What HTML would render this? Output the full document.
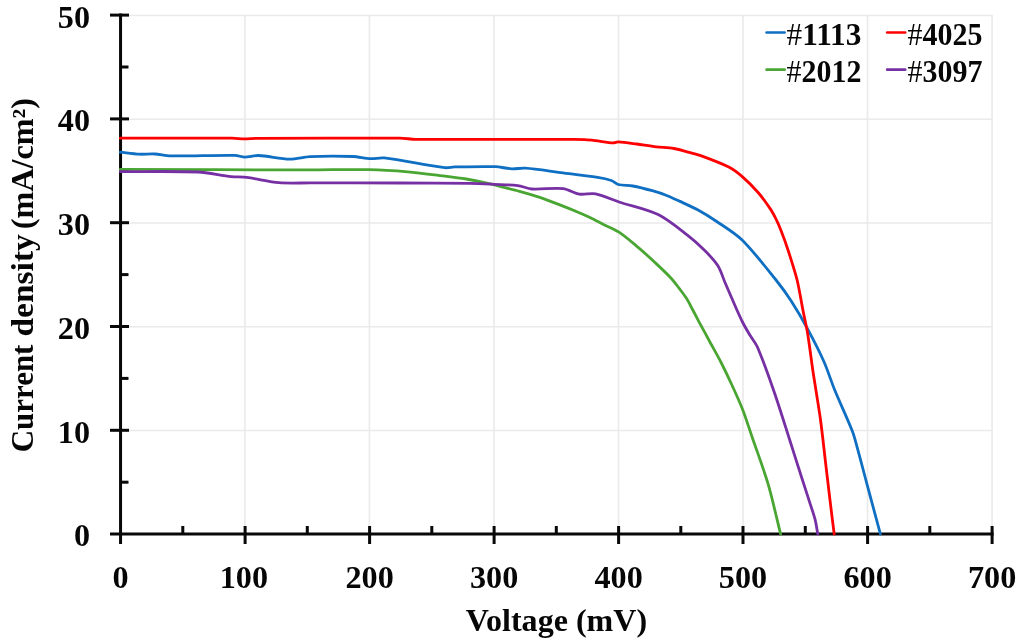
<!DOCTYPE html>
<html><head><meta charset="utf-8"><title>J-V curves</title>
<style>
html,body{margin:0;padding:0;background:#fff;}
body{width:1024px;height:644px;overflow:hidden;}
svg{display:block;}
text{font-family:"Liberation Serif",serif;font-weight:bold;fill:#060606;}
</style></head><body>
<svg width="1024" height="644" viewBox="0 0 1024 644">
<rect width="1024" height="644" fill="#fff"/>
<g stroke="#eaeaea" stroke-width="1.6">
<line x1="244.92" y1="15.1" x2="244.92" y2="534.05"/>
<line x1="369.44" y1="15.1" x2="369.44" y2="534.05"/>
<line x1="493.96" y1="15.1" x2="493.96" y2="534.05"/>
<line x1="618.48" y1="15.1" x2="618.48" y2="534.05"/>
<line x1="743.0" y1="15.1" x2="743.0" y2="534.05"/>
<line x1="867.52" y1="15.1" x2="867.52" y2="534.05"/>
<line x1="992.04" y1="15.1" x2="992.04" y2="534.05"/>
<line x1="120.55" y1="430.57" x2="992.6" y2="430.57"/>
<line x1="120.55" y1="326.79" x2="992.6" y2="326.79"/>
<line x1="120.55" y1="223.01" x2="992.6" y2="223.01"/>
<line x1="120.55" y1="119.23" x2="992.6" y2="119.23"/>
<line x1="120.55" y1="15.45" x2="992.6" y2="15.45"/>
</g>
<g stroke="#080808" stroke-width="3.0" fill="none">
<line x1="120.55" y1="13.6" x2="120.55" y2="544"/>
<line x1="110" y1="534.05" x2="993.6" y2="534.05"/>
<line x1="182.8" y1="526" x2="182.8" y2="534.05"/>
<line x1="245.1" y1="526" x2="245.1" y2="544"/>
<line x1="307.3" y1="526" x2="307.3" y2="534.05"/>
<line x1="369.6" y1="526" x2="369.6" y2="544"/>
<line x1="431.8" y1="526" x2="431.8" y2="534.05"/>
<line x1="494.1" y1="526" x2="494.1" y2="544"/>
<line x1="556.3" y1="526" x2="556.3" y2="534.05"/>
<line x1="618.6" y1="526" x2="618.6" y2="544"/>
<line x1="680.8" y1="526" x2="680.8" y2="534.05"/>
<line x1="743.0" y1="526" x2="743.0" y2="544"/>
<line x1="805.3" y1="526" x2="805.3" y2="534.05"/>
<line x1="867.6" y1="526" x2="867.6" y2="544"/>
<line x1="929.8" y1="526" x2="929.8" y2="534.05"/>
<line x1="992.1" y1="526" x2="992.1" y2="544"/>
<line x1="120.55" y1="482.2" x2="128.5" y2="482.2"/>
<line x1="110" y1="430.3" x2="129" y2="430.3"/>
<line x1="120.55" y1="378.4" x2="128.5" y2="378.4"/>
<line x1="110" y1="326.5" x2="129" y2="326.5"/>
<line x1="120.55" y1="274.6" x2="128.5" y2="274.6"/>
<line x1="110" y1="222.7" x2="129" y2="222.7"/>
<line x1="120.55" y1="170.8" x2="128.5" y2="170.8"/>
<line x1="110" y1="118.9" x2="129" y2="118.9"/>
<line x1="120.55" y1="67.0" x2="128.5" y2="67.0"/>
<line x1="110" y1="15.1" x2="129" y2="15.1"/>
</g>
<path d="M120.3,152.2C126.0,152.8 133.6,153.9 139.3,154.2C144.0,154.4 150.2,153.7 154.9,154.0C159.6,154.3 165.8,155.8 170.5,155.9C189.8,156.2 215.7,155.1 235.0,155.4C238.0,155.4 241.8,157.1 244.8,157.1C248.9,157.1 254.3,155.3 258.4,155.5C267.8,155.9 280.3,158.9 289.7,159.1C295.8,159.2 303.9,156.9 310.0,156.6C322.9,156.1 340.1,156.1 353.0,156.5C358.3,156.7 365.2,158.5 370.5,158.7C374.6,158.9 380.1,157.4 384.2,157.9C402.5,160.1 426.5,165.4 444.8,167.7C447.7,168.1 451.6,167.0 454.5,166.9C466.8,166.7 483.2,166.3 495.5,166.7C500.4,166.9 506.8,168.6 511.7,168.8C515.8,169.0 521.3,167.9 525.4,168.2C535.4,168.9 548.6,171.0 558.6,172.3C570.3,173.8 586.0,175.6 597.7,177.4C601.8,178.0 607.3,179.1 611.3,180.5C613.6,181.3 615.9,183.9 618.2,184.5C622.5,185.6 628.5,185.2 632.8,186.0C638.7,187.1 646.5,189.1 652.3,190.7C656.5,191.9 662.0,193.6 666.0,195.2C670.3,196.9 675.8,199.5 680.0,201.4C685.2,203.8 692.2,206.9 697.2,209.6C703.2,212.9 711.0,217.7 716.7,221.5C724.5,226.8 735.4,233.4 742.1,240.0C753.3,251.0 766.1,267.7 776.0,280.0C780.9,286.1 787.0,294.5 791.2,301.1C796.5,309.3 803.1,320.6 807.7,329.2C812.9,338.9 819.6,351.9 824.1,362.0C827.7,370.2 831.3,381.7 834.7,390.0C839.8,402.4 847.4,418.5 852.3,431.0C854.1,435.5 855.6,441.7 856.9,446.3C860.2,458.2 864.3,474.2 867.5,486.1C871.4,500.5 876.5,519.6 880.4,534.0" fill="none" stroke="#0f6fc2" stroke-width="2.8" stroke-linejoin="round" stroke-linecap="round"/>
<path d="M120.3,169.4C177.2,169.6 253.1,169.9 310.0,169.9C327.6,169.9 351.0,169.3 368.6,169.6C380.3,169.8 396.0,170.8 407.7,171.8C419.4,172.8 435.0,174.9 446.7,176.3C452.6,177.0 460.4,178.0 466.3,179.0C472.2,180.0 480.0,181.6 485.8,182.9C490.1,183.8 495.7,185.3 500.0,186.4C505.9,187.9 513.7,189.7 519.5,191.3C525.4,192.9 533.2,195.2 539.0,197.1C544.9,199.1 552.7,202.1 558.6,204.4C564.5,206.7 572.3,209.8 578.1,212.2C581.7,213.7 586.5,215.9 590.0,217.6C594.1,219.6 599.4,222.4 603.4,224.4C608.1,226.8 614.7,229.3 619.0,232.2C625.5,236.5 633.3,243.4 639.3,248.4C644.3,252.6 650.7,258.5 655.5,263.0C660.3,267.5 666.6,273.4 671.1,278.2C673.6,280.9 676.6,284.9 678.8,287.8C681.2,291.0 684.5,295.2 686.6,298.6C688.7,301.9 691.0,306.6 692.8,310.0C694.7,313.5 697.1,318.3 699.0,321.8C702.1,327.6 706.3,335.2 709.4,341.0C712.9,347.5 717.8,356.0 721.1,362.5C724.5,369.2 728.8,378.2 731.9,385.0C735.3,392.4 739.8,402.3 742.8,409.9C745.9,417.9 749.3,428.9 752.1,437.0C756.9,451.0 763.8,469.5 768.0,483.7C772.4,498.6 776.8,518.9 780.6,534.0" fill="none" stroke="#4aa632" stroke-width="2.8" stroke-linejoin="round" stroke-linecap="round"/>
<path d="M120.3,171.6C143.6,171.7 174.6,171.0 197.9,172.0C207.9,172.5 221.1,175.5 231.1,176.6C235.8,177.1 242.1,176.8 246.7,177.4C256.4,178.6 269.2,181.9 279.0,182.7C288.3,183.5 300.7,182.9 310.0,182.9C337.0,183.0 373.0,182.9 400.0,183.0C421.0,183.1 449.0,183.0 470.0,183.3C477.3,183.4 487.1,184.0 494.4,184.4C501.4,184.7 510.8,184.7 517.8,185.6C522.1,186.1 527.6,188.7 531.9,189.0C541.2,189.6 553.8,187.6 563.1,188.6C568.3,189.2 574.4,193.3 579.5,194.1C584.3,194.9 590.9,192.8 595.7,193.8C603.0,195.3 612.0,199.6 619.1,202.0C630.8,205.9 647.0,209.2 658.1,214.6C667.8,219.3 678.9,228.6 687.4,235.2C693.0,239.5 700.0,245.8 705.0,250.8C709.2,255.0 714.7,260.8 717.9,265.8C720.8,270.4 722.9,277.5 725.0,282.5C727.4,288.1 730.6,295.5 733.0,301.0C735.8,307.3 739.4,315.8 742.5,322.0C744.5,326.1 747.7,331.4 750.0,335.3C752.1,338.9 755.8,343.2 757.4,347.0C762.8,359.7 769.0,377.0 773.5,390.0C778.6,404.6 784.7,424.3 789.4,439.0C792.9,450.0 797.6,464.7 801.1,475.7C803.6,483.6 807.1,494.2 809.6,502.1C811.2,507.2 813.7,514.0 815.0,519.2C816.1,523.6 817.0,529.6 817.8,534.0" fill="none" stroke="#7630a4" stroke-width="2.8" stroke-linejoin="round" stroke-linecap="round"/>
<path d="M120.3,138.2C153.8,138.2 198.5,138.0 232.0,138.2C235.8,138.2 241.0,138.9 244.8,138.9C248.5,138.9 253.3,138.3 257.0,138.3C299.8,138.1 357.0,137.9 399.8,138.2C404.5,138.2 410.8,139.2 415.5,139.3C440.8,139.6 474.6,139.4 500.0,139.4C522.2,139.4 551.8,139.2 574.0,139.3C577.3,139.3 581.7,139.5 585.0,139.7C588.0,139.9 592.0,140.3 595.0,140.6C600.5,141.2 607.8,142.6 613.3,142.9C614.8,143.0 616.7,141.8 618.2,141.9C623.8,142.2 631.2,143.3 636.7,144.0C642.6,144.8 650.4,146.1 656.3,146.8C661.5,147.4 668.6,147.7 673.8,148.5C677.4,149.0 682.0,150.4 685.5,151.3C689.9,152.5 695.8,153.9 700.0,155.4C708.8,158.6 720.5,162.9 728.8,167.1C733.3,169.4 738.7,173.6 742.5,176.9C747.5,181.2 753.7,187.5 758.1,192.5C762.0,196.9 766.5,203.3 769.8,208.1C771.7,210.8 773.8,214.7 775.3,217.6C777.1,221.1 779.2,225.9 780.6,229.6C783.0,235.7 786.0,243.8 788.0,250.0C790.9,258.9 794.8,270.9 797.1,280.0C799.3,289.0 801.2,301.4 803.0,310.5C804.4,317.5 806.5,326.8 807.7,333.9C809.3,343.7 810.9,356.9 812.3,366.7C813.3,373.7 814.8,383.0 815.9,390.0C817.3,399.1 819.4,411.3 820.6,420.5C822.2,432.4 823.9,448.4 825.3,460.3C826.7,472.3 828.6,488.2 830.0,500.2C831.2,510.3 832.9,523.9 834.2,534.0" fill="none" stroke="#ff0000" stroke-width="2.8" stroke-linejoin="round" stroke-linecap="round"/>
<g font-size="31" text-anchor="middle">
<text x="120.5" y="588" textLength="16.1" lengthAdjust="spacingAndGlyphs">0</text>
<text x="243.9" y="588" textLength="48.3" lengthAdjust="spacingAndGlyphs">100</text>
<text x="369.6" y="588" textLength="48.3" lengthAdjust="spacingAndGlyphs">200</text>
<text x="494.1" y="588" textLength="48.3" lengthAdjust="spacingAndGlyphs">300</text>
<text x="618.6" y="588" textLength="48.3" lengthAdjust="spacingAndGlyphs">400</text>
<text x="743.0" y="588" textLength="48.3" lengthAdjust="spacingAndGlyphs">500</text>
<text x="867.6" y="588" textLength="48.3" lengthAdjust="spacingAndGlyphs">600</text>
<text x="992.1" y="588" textLength="48.3" lengthAdjust="spacingAndGlyphs">700</text>
</g>
<g font-size="31" text-anchor="end">
<text x="90" y="546.4" textLength="16.1" lengthAdjust="spacingAndGlyphs">0</text>
<text x="90" y="442.7" textLength="32.2" lengthAdjust="spacingAndGlyphs">10</text>
<text x="90" y="338.9" textLength="32.2" lengthAdjust="spacingAndGlyphs">20</text>
<text x="90" y="235.1" textLength="32.2" lengthAdjust="spacingAndGlyphs">30</text>
<text x="90" y="131.3" textLength="32.2" lengthAdjust="spacingAndGlyphs">40</text>
<text x="90" y="27.5" textLength="32.2" lengthAdjust="spacingAndGlyphs">50</text>
</g>
<text x="556.45" y="630.8" font-size="31" text-anchor="middle" textLength="181.2" lengthAdjust="spacingAndGlyphs">Voltage (mV)</text>
<text transform="translate(33.4,452.3) rotate(-90)" font-size="31" textLength="107.7" lengthAdjust="spacingAndGlyphs">Current</text>
<text transform="translate(33.4,336.6) rotate(-90)" font-size="31" textLength="102.4" lengthAdjust="spacingAndGlyphs">density</text>
<text transform="translate(33.4,229.2) rotate(-90)" font-size="31" textLength="131.2" lengthAdjust="spacingAndGlyphs">(mA/cm²)</text>
<line x1="766.6" y1="32.5" x2="784.6" y2="32.5" stroke="#0f6fc2" stroke-width="2.7" stroke-linecap="round"/>
<text x="786.6" y="44.7" font-size="31" textLength="74.8" lengthAdjust="spacingAndGlyphs"><tspan font-weight="normal">#</tspan>1113</text>
<line x1="766.6" y1="69.7" x2="784.6" y2="69.7" stroke="#4aa632" stroke-width="2.7" stroke-linecap="round"/>
<text x="786.6" y="81.9" font-size="31" textLength="74.8" lengthAdjust="spacingAndGlyphs"><tspan font-weight="normal">#</tspan>2012</text>
<line x1="887.2" y1="32.5" x2="905.2" y2="32.5" stroke="#ff0000" stroke-width="2.7" stroke-linecap="round"/>
<text x="907.6" y="44.7" font-size="31" textLength="74.9" lengthAdjust="spacingAndGlyphs"><tspan font-weight="normal">#</tspan>4025</text>
<line x1="887.2" y1="69.7" x2="905.2" y2="69.7" stroke="#7630a4" stroke-width="2.7" stroke-linecap="round"/>
<text x="907.6" y="81.9" font-size="31" textLength="74.9" lengthAdjust="spacingAndGlyphs"><tspan font-weight="normal">#</tspan>3097</text>
</svg></body></html>
